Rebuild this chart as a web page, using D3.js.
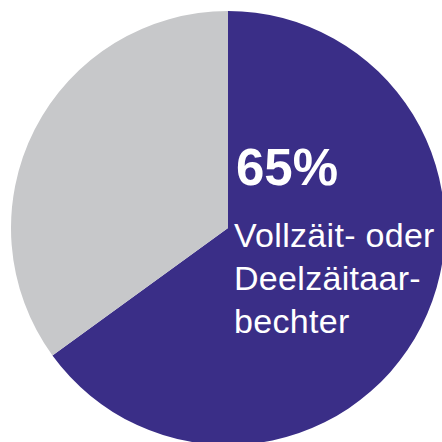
<!DOCTYPE html>
<html>
<head>
<meta charset="utf-8">
<script src="https://cdn.jsdelivr.net/npm/d3@7"></script>
<style>
  html, body { margin: 0; padding: 0; background: #fff; }
  svg { display: block; }
</style>
</head>
<body>
<div id="chart"></div>
<script>
// Share of workers
const categories = ['Vollzäit- oder Deelzäitaarbechter', 'Aner'];
const values = [65, 35];
const colors = ['#3a2e87', '#c7c8ca'];
const labelLines = ['Vollzäit- oder', 'Deelzäitaar-', 'bechter'];

const width = 442, height = 442;
const cx = 228, cy = 228, radius = 217;

const svg = d3.select('#chart').append('svg')
    .attr('width', width)
    .attr('height', height);

const g = svg.append('g')
    .attr('transform', `translate(${cx},${cy})`);

const pie = d3.pie().sort(null).value(d => d);
const arc = d3.arc().innerRadius(0).outerRadius(radius);

g.selectAll('path')
    .data(pie(values))
    .join('path')
    .attr('d', arc)
    .attr('fill', (d, i) => colors[i]);

// Label
const label = svg.append('g')
    .attr('fill', '#fff')
    .style('font-family', '"Liberation Sans", Arial, sans-serif');

label.append('text')
    .attr('x', 236)
    .attr('y', 185)
    .style('font-size', '51px')
    .style('font-weight', 'bold')
    .text(values[0] + '%');

label.selectAll('text.line')
    .data(labelLines)
    .join('text')
    .attr('class', 'line')
    .attr('x', 234)
    .attr('y', (d, i) => 247 + i * 43)
    .style('font-size', '34px')
    .style('font-weight', '300')
    .style('letter-spacing', '0.3px')
    .text(d => d);
</script>
</body>
</html>
